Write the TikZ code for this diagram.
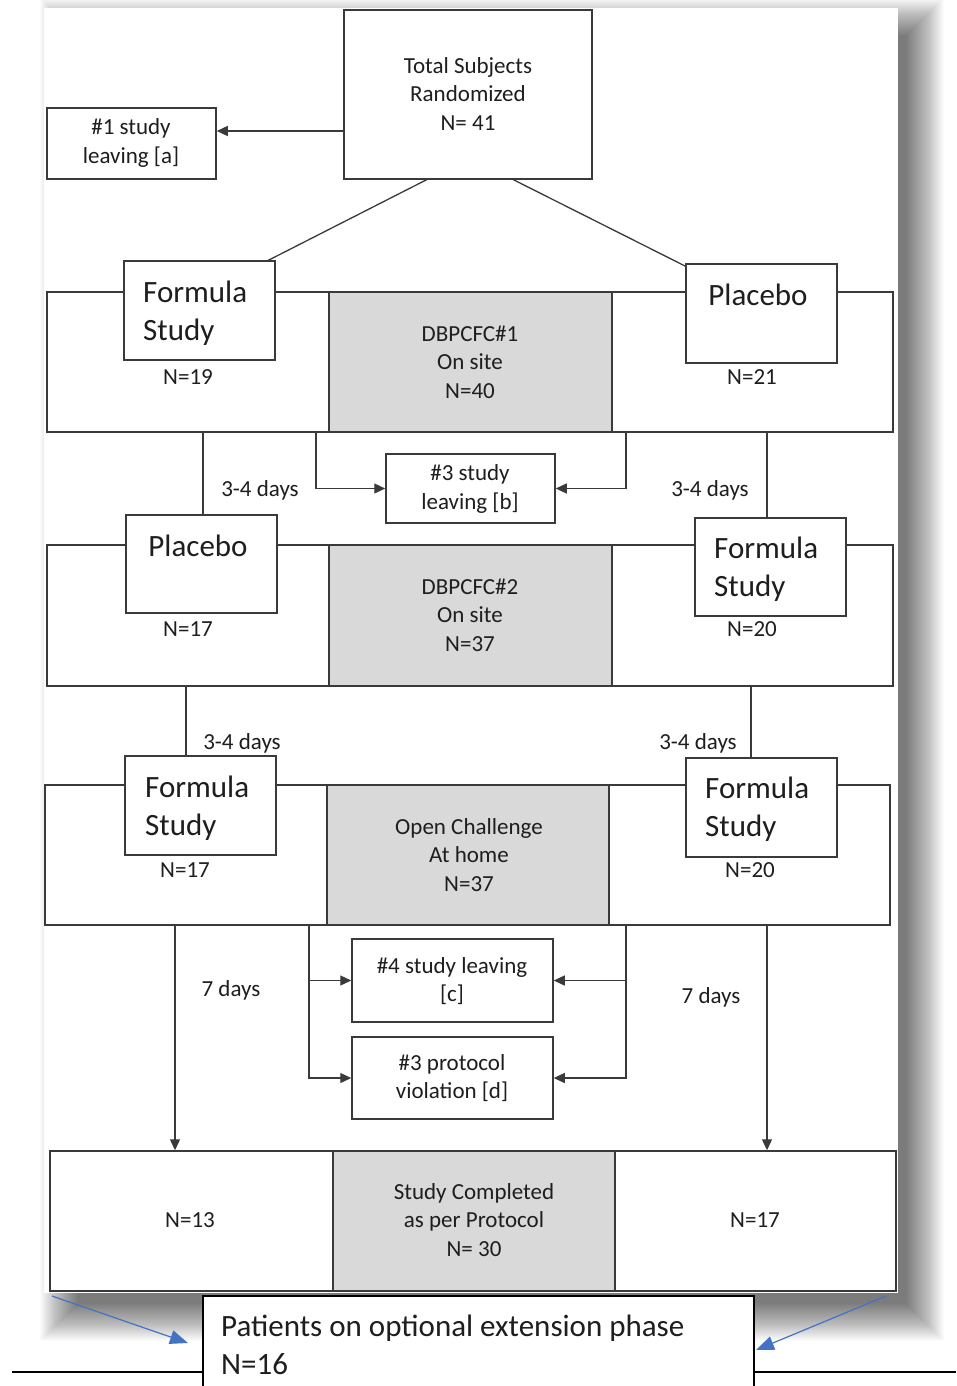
\documentclass[tikz,border=0pt]{standalone}
\usepackage{fontspec}
\setmainfont{Carlito}
\usetikzlibrary{arrows.meta,fit,calc}
\definecolor{linec}{HTML}{3A3A3A}
\definecolor{greyc}{HTML}{D9D9D9}
\definecolor{textc}{HTML}{1E1E1E}
\definecolor{bluec}{HTML}{4472C4}
\begin{document}
\begin{tikzpicture}[x=1pt,y=-1pt,
  cell/.style={draw=linec,line width=1.5pt,fill=white,inner sep=0pt},
  gcell/.style={cell,fill=greyc},
  wbox/.style={cell},
  sm/.style={font=\fontsize{23}{28.5}\selectfont,text=textc,align=center,inner sep=0pt},
  lg/.style={font=\fontsize{31}{38}\selectfont,text=textc,align=left,inner sep=0pt},
  conn/.style={draw=linec,line width=1.3pt},
  arr/.style={conn,-{Triangle[length=11pt,width=10pt]}},
  barr/.style={draw=bluec,line width=1.2pt,-{Triangle[length=18pt,width=14pt]}}]
\useasboundingbox (0,0) rectangle (956,1386);
\fill[white] (0,0) rectangle (956,1386);
% shadow of the panel
\foreach \r in {0,1,...,38} \fill[black,opacity=0.015] (78-\r,36-\r) rectangle (906+\r,1303+\r);
\fill[white] (44,8) rectangle (898,1293);

% top
\node[cell,fit={(344,10)(592,179)}] (total) {};
\node[sm] (totalt) at (468,94) {Total Subjects\\Randomized\\N= 41};
\node[cell,fit={(47,108)(216,179)}] (lv1) {};
\node[sm] (lv1t) at (131,143) {\#1 study\\leaving [a]};
\coordinate (a1) at (344,131);
\draw[arr] (a1) -- (a1 -| lv1.east);
\coordinate (d1) at (428,179);
\coordinate (d1e) at (265,262);
\coordinate (d2) at (512,179);
\coordinate (d2e) at (685,266);
\draw[conn] (d1) -- (d1e);
\draw[conn] (d2) -- (d2e);

% row 1
\node[cell,fit={(47,292)(329,432)}] (r1l) {};
\node[gcell,fit={(329,292)(612,432)}] (r1m) {};
\node[cell,fit={(612,292)(893,432)}] (r1r) {};
\node[wbox,fit={(124,261)(275,360)}] (fs1) {};
\node[lg,anchor=west] (fs1t) at (143,313) {Formula\\Study};
\node[sm,anchor=base] (n19) at (188,384) {N=19};
\node[sm] (m1) at (470,362) {DBPCFC\#1\\On site\\N=40};
\node[wbox,fit={(686,264)(837,363)}] (pl1) {};
\node[lg,anchor=base] (pl1t) at (758,305) {Placebo};
\node[sm,anchor=base] (n21) at (752,384) {N=21};

% row1 -> row2
\node[cell,fit={(386,454)(555,523)}] (lv3) {};
\node[sm] (lv3t) at (470,489) {\#3 study\\leaving [b]};
\coordinate (v1) at (203,432);
\coordinate (v2) at (316,432);
\coordinate (v3) at (626,432);
\coordinate (v4) at (767,432);
\draw[arr] (v2) |- (lv3.west);
\draw[arr] (v3) |- (lv3.east);
\node[sm,anchor=base] (dy1) at (260,496) {3-4 days};
\node[sm,anchor=base] (dy2) at (710,496) {3-4 days};

% row 2
\node[cell,fit={(47,545)(329,686)}] (r2l) {};
\node[gcell,fit={(329,545)(612,686)}] (r2m) {};
\node[cell,fit={(612,545)(893,686)}] (r2r) {};
\node[wbox,fit={(126,515)(277,613)}] (pl2) {};
\node[lg,anchor=base] (pl2t) at (198,556) {Placebo};
\node[sm,anchor=base] (n17a) at (188,636) {N=17};
\node[sm] (m2) at (470,615) {DBPCFC\#2\\On site\\N=37};
\node[wbox,fit={(695,518)(846,616)}] (fs2) {};
\node[lg,anchor=west] (fs2t) at (714,569) {Formula\\Study};
\node[sm,anchor=base] (n20a) at (752,636) {N=20};
\draw[conn] (v1) -- (v1 |- pl2.north);
\draw[conn] (v4) -- (v4 |- fs2.north);

% row2 -> row3
\coordinate (v5) at (186,686);
\coordinate (v6) at (751,686);
\node[sm,anchor=base] (dy3) at (242,749) {3-4 days};
\node[sm,anchor=base] (dy4) at (698,749) {3-4 days};

% row 3
\node[cell,fit={(45,785)(327,925)}] (r3l) {};
\node[gcell,fit={(327,785)(609,925)}] (r3m) {};
\node[cell,fit={(609,785)(890,925)}] (r3r) {};
\node[wbox,fit={(125,756)(276,855)}] (fs3) {};
\node[lg,anchor=west] (fs3t) at (145,808) {Formula\\Study};
\node[sm,anchor=base] (n17b) at (185,877) {N=17};
\node[sm] (m3) at (469,855) {Open Challenge\\At home\\N=37};
\node[wbox,fit={(686,758)(837,857)}] (fs4) {};
\node[lg,anchor=west] (fs4t) at (705,809) {Formula\\Study};
\node[sm,anchor=base] (n20b) at (750,877) {N=20};
\draw[conn] (v5) -- (v5 |- fs3.north);
\draw[conn] (v6) -- (v6 |- fs4.north);

% row 4
\node[cell,fit={(50,1151)(333,1291)}] (r4l) {};
\node[gcell,fit={(333,1151)(615,1291)}] (r4m) {};
\node[cell,fit={(615,1151)(896,1291)}] (r4r) {};
\node[sm,anchor=base] (n13) at (190,1227) {N=13};
\node[sm] (m4) at (474,1220) {Study Completed\\as per Protocol\\N= 30};
\node[sm,anchor=base] (n17c) at (755,1227) {N=17};

% row3 -> row4
\node[cell,fit={(352,939)(553,1022)}] (lv4) {};
\node[sm] (lv4t) at (452,981) {\#4 study leaving\\{[c]}};
\node[cell,fit={(352,1037)(553,1119)}] (pv) {};
\node[sm] (pvt) at (452,1078) {\#3 protocol\\violation [d]};
\coordinate (v7) at (175,925);
\coordinate (v8) at (767,925);
\coordinate (v9) at (309,925);
\coordinate (v10) at (626,925);
\draw[arr] (v7) -- (v7 |- r4l.north);
\draw[arr] (v8) -- (v8 |- r4r.north);
\draw[arr] (v9) |- (lv4.west);
\draw[arr] (v9) |- (pv.west);
\draw[arr] (v10) |- (lv4.east);
\draw[arr] (v10) |- (pv.east);
\node[sm,anchor=base] (dy5) at (231,996) {7 days};
\node[sm,anchor=base] (dy6) at (711,1003) {7 days};

% extension phase
\node[draw=black,line width=1.5pt,fill=white,inner sep=0pt,fit={(203,1296)(754,1400)}] (ext) {};
\node[lg,anchor=west] (extt) at (221,1345) {Patients on optional extension phase\\N=16};
\coordinate (h1) at (12,1372);
\coordinate (h2) at (956,1372);
\draw[black,line width=1.6pt] (h1) -- (h1 -| ext.west);
\draw[black,line width=1.6pt] (h2) -- (h2 -| ext.east);
\coordinate (b1) at (52,1296);
\coordinate (b1e) at (188,1343);
\coordinate (b2) at (886,1296);
\coordinate (b2e) at (756,1350);
\draw[barr] (b1) -- (b1e);
\draw[barr] (b2) -- (b2e);
\end{tikzpicture}
\end{document}
